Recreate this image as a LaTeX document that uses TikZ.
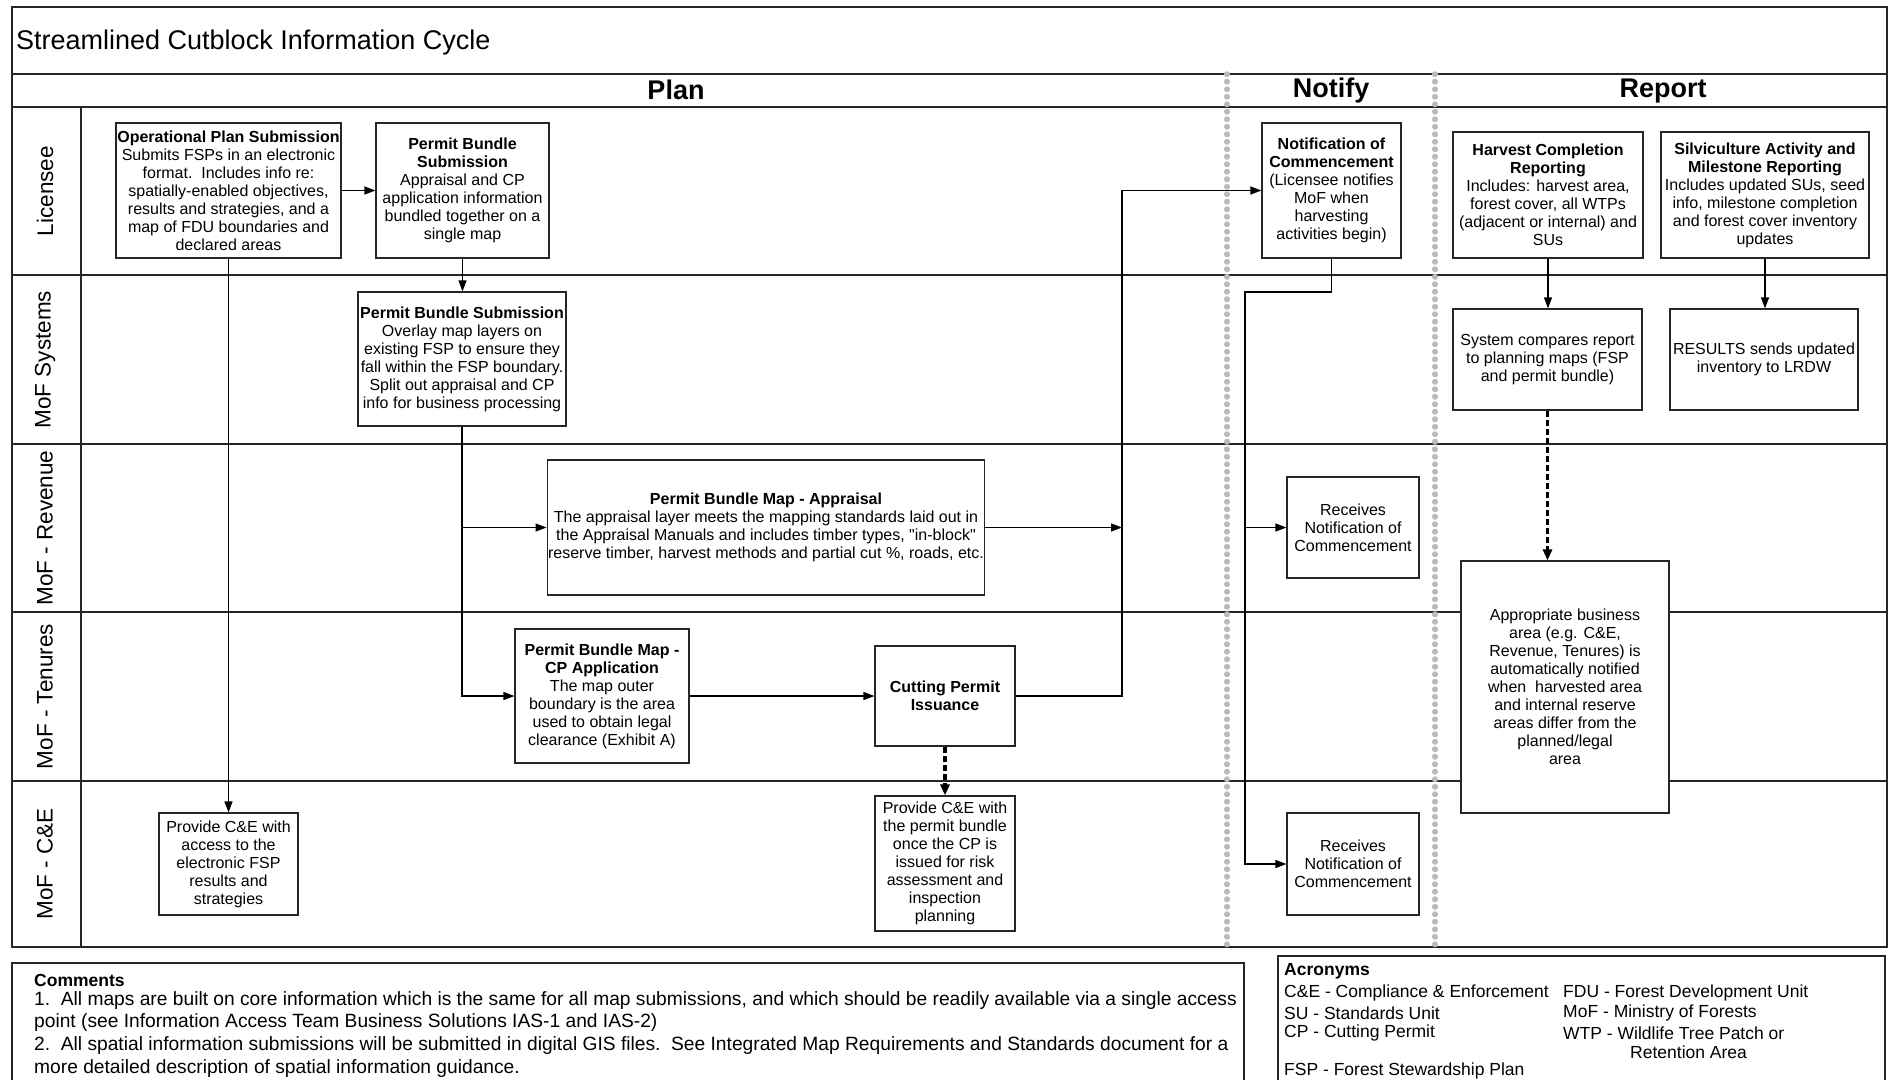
\documentclass[tikz,border=0pt]{standalone}
\usepackage{fontspec}
\setmainfont{Liberation Sans}
\newfontfamily\plainfont{Liberation Sans}
\usetikzlibrary{arrows.meta,positioning}

\begin{document}
\begin{tikzpicture}[
    x=1pt, y=-1pt,
    every node/.style={font=\fontsize{16}{18}\selectfont},
    lanerule/.style={draw=black!85, line width=1.4pt},
    box/.style={draw=black!85, fill=white, line width=1.2pt, align=center, inner sep=1pt},
    ar/.style={-{Triangle[length=11pt, width=8pt]}, line width=1.2pt},
    dar/.style={-{Triangle[length=11pt, width=9pt]}, line width=3.2pt, dash pattern=on 6pt off 3pt},
    divider/.style={draw=black!27, line width=5.5pt, line cap=round, dash pattern=on 0.5pt off 7pt},
    lanetext/.style={rotate=90, font=\fontsize{22.5}{26}\selectfont},
    phase/.style={font=\fontsize{27}{30}\selectfont\bfseries},
    cmt/.style={align=left, anchor=west, inner sep=0pt, font=\fontsize{17.5}{21}\selectfont},
    cmthead/.style={cmt, font=\fontsize{17.5}{21}\selectfont\bfseries},
    longcmt/.style={cmt, font=\fontsize{19.2}{22}\selectfont}
  ]
  \useasboundingbox (0,0) rectangle (1892,1080);
  \draw[lanerule] (12,7) rectangle (1887,947);
  \draw[lanerule] (12,74) -- (1887,74);
  \draw[lanerule] (12,107) -- (1887,107);
  \draw[lanerule] (81,107) -- (81,947);
  \draw[lanerule] (12,275) -- (1887,275);
  \draw[lanerule] (12,444) -- (1887,444);
  \draw[lanerule] (12,612) -- (1887,612);
  \draw[lanerule] (12,781) -- (1887,781);

  \node[anchor=west, inner sep=0pt, font=\fontsize{27}{30}\selectfont] (title) at (16,43) {Streamlined Cutblock Information Cycle};
  \node[phase] (plan) at (676,90) {Plan};
  \node[phase] (notify) at (1331,91) {Notify};
  \node[phase] (report) at (1663,91) {Report};

  \node[lanetext] (lic) at (45,191) {Licensee};
  \node[lanetext] (msys) at (45,359.5) {MoF Systems};
  \node[lanetext] (mrev) at (45,528) {MoF - Revenue};
  \node[lanetext] (mten) at (45,696.5) {MoF - Tenures};
  \node[lanetext] (mce) at (45,864) {MoF - C\&E};

  \node[box, minimum width=225pt, minimum height=135pt] (ops) at (228.5,190.5)
    {\textbf{Operational Plan Submission}\\Submits FSPs in an electronic\\format.\ \ Includes info re:\\spatially-enabled objectives,\\results and strategies, and a\\map of FDU boundaries and\\declared areas};
  \node[box, minimum width=173pt, minimum height=135pt] (pbs) at (462.5,190.5)
    {\textbf{Permit Bundle}\\\textbf{Submission}\\Appraisal and CP\\application information\\bundled together on a\\single map};
  \node[box, minimum width=208pt, minimum height=134pt] (pbsys) at (462,359)
    {\textbf{Permit Bundle Submission}\\Overlay map layers on\\existing FSP to ensure they\\fall within the FSP boundary.\\Split out appraisal and CP\\info for business processing};
  \node[box, minimum width=434pt, minimum height=135pt] (appr) at (766,527.5)
    {\textbf{Permit Bundle Map - Appraisal}\\The appraisal layer meets the mapping standards laid out in\\the Appraisal Manuals and includes timber types, {\plainfont"in-block"}\\reserve timber, harvest methods and partial cut \%, roads, etc.};
  \node[box, minimum width=174pt, minimum height=134pt] (cpapp) at (602,696)
    {\textbf{Permit Bundle Map -}\\\textbf{CP Application}\\The map outer\\boundary is the area\\used to obtain legal\\clearance (Exhibit A)};
  \node[box, minimum width=140pt, minimum height=100pt] (cpi) at (945,696)
    {\textbf{Cutting Permit}\\\textbf{Issuance}};
  \node[box, minimum width=140pt, minimum height=135pt] (cecp) at (945,863.5)
    {Provide C\&E with\\the permit bundle\\once the CP is\\issued for risk\\assessment and\\inspection\\planning};
  \node[box, minimum width=139pt, minimum height=102pt] (cefsp) at (228.5,864)
    {Provide C\&E with\\access to the\\electronic FSP\\results and\\strategies};
  \node[box, minimum width=139pt, minimum height=135pt] (noc) at (1331.5,190.5)
    {\textbf{Notification of}\\\textbf{Commencement}\\(Licensee notifies\\MoF when\\harvesting\\activities begin)};
  \node[box, minimum width=132pt, minimum height=101pt] (rnoca) at (1353,527.5)
    {Receives\\Notification of\\Commencement};
  \node[box, minimum width=132pt, minimum height=102pt] (rnocb) at (1353,864)
    {Receives\\Notification of\\Commencement};
  \node[box, minimum width=190pt, minimum height=126pt] (hcr) at (1548,195)
    {\textbf{Harvest Completion}\\\textbf{Reporting}\\Includes: harvest area,\\forest cover, all WTPs\\(adjacent or internal) and\\SUs};
  \node[box, minimum width=208pt, minimum height=126pt] (sar) at (1765,195)
    {\textbf{Silviculture Activity and}\\\textbf{Milestone Reporting}\\Includes updated SUs, seed\\info, milestone completion\\and forest cover inventory\\updates};
  \node[box, minimum width=189pt, minimum height=101pt] (sys) at (1547.5,359.5)
    {System compares report\\to planning maps (FSP\\and permit bundle)};
  \node[box, minimum width=188pt, minimum height=101pt] (res) at (1764,359.5)
    {RESULTS sends updated\\inventory to LRDW};
  \node[box, minimum width=208pt, minimum height=252pt] (appb) at (1565,687)
    {Appropriate business\\area (e.g. C\&E,\\Revenue, Tenures) is\\automatically notified\\when\ \ harvested area\\and internal reserve\\areas differ from the\\planned/legal\\area};

  \coordinate (jn) at (1122,527.5);
  \coordinate (nb) at (1245,292);
  \draw[ar] (ops) -- (pbs);
  \draw[ar] (pbs) -- (pbs.south |- pbsys.north);
  \draw[ar] (ops) -- (cefsp);
  \draw[ar] (pbsys) |- (cpapp);
  \draw[ar] (pbsys.south |- appr.west) -- (appr);
  \draw[ar] (appr) -- (jn);
  \draw[ar] (cpapp) -- (cpi);
  \draw[ar] (cpi) -| (jn |- noc) -- (noc);
  \draw[dar] (cpi) -- (cecp);
  \draw[ar] (noc.south) |- (nb) |- (rnocb);
  \draw[ar] (nb |- rnoca) -- (rnoca);
  \draw[ar] (hcr) -- (hcr.south |- sys.north);
  \draw[ar] (sar) -- (sar.south |- res.north);
  \draw[dar] (sys) -- (sys.south |- appb.north);

  \draw[divider] (1227,74) -- (1227,947);
  \draw[divider] (1435,74) -- (1435,947);

  \draw[lanerule] (12,1080) |- (1244,963) -- (1244,1080);
  \node[cmthead] (cmts) at (34,980) {Comments};
  \node[longcmt] (cmta) at (34,1001) {1.\ \ All maps are built on core information which is the same for all map submissions, and which should be readily available via a single access};
  \node[longcmt] (cmtb) at (34,1023) {point (see Information Access Team Business Solutions IAS-1 and IAS-2)};
  \node[longcmt] (cmtc) at (34,1046) {2.\ \ All spatial information submissions will be submitted in digital GIS files.\ \ See Integrated Map Requirements and Standards document for a};
  \node[longcmt] (cmtd) at (34,1069) {more detailed description of spatial information guidance.};

  \draw[lanerule] (1278,1080) |- (1885,956) -- (1885,1080);
  \node[cmthead] (acr) at (1284,971) {Acronyms};
  \node[cmt] (acra) at (1284,993) {C\&E - Compliance \& Enforcement};
  \node[cmt] (acrb) at (1284,1013) {SU - Standards Unit};
  \node[cmt] (acrc) at (1284,1033) {CP - Cutting Permit};
  \node[cmt] (acrd) at (1284,1071) {FSP - Forest Stewardship Plan};
  \node[cmt] (acre) at (1563,993) {FDU - Forest Development Unit};
  \node[cmt] (acrf) at (1563,1013) {MoF - Ministry of Forests};
  \node[cmt] (acrg) at (1563,1033) {WTP - Wildlife Tree Patch or};
  \node[cmt] (acrh) at (1630,1052) {Retention Area};
\end{tikzpicture}
\end{document}
